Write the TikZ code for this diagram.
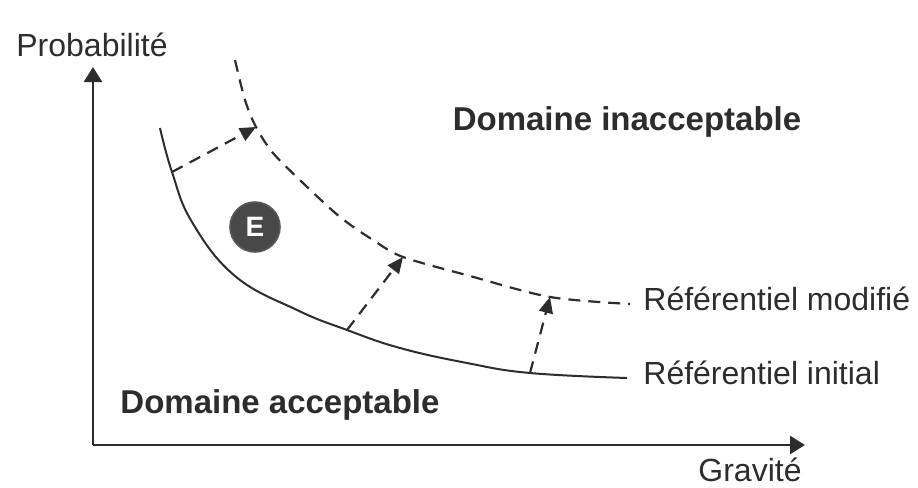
\documentclass[tikz,border=0pt]{standalone}
\usepackage{fontspec}
\setmainfont{Liberation Sans}
\usetikzlibrary{arrows.meta, positioning, calc}
\definecolor{ink}{RGB}{45, 45, 45}
\definecolor{disc}{RGB}{72, 72, 72}

\begin{document}
\begin{tikzpicture}[x=0.5pt, y=-0.5pt, font=\fontsize{16}{18}\selectfont,
  axe/.style={ink, line width=1.3pt, -{Triangle[length=7.5pt, width=9pt]}},
  refline/.style={ink, line width=1pt},
  move/.style={ink, line width=1.1pt, dash pattern=on 6pt off 4pt, -{Triangle[length=8pt, width=7pt]}},
  lbl/.style={text=ink, inner sep=0pt},
  zone/.style={lbl, font=\fontsize{16.5}{18}\selectfont\bfseries}]
  \useasboundingbox (0,0) rectangle (918,488);
  % Axes
  \coordinate (o) at (93,445);
  \node[lbl] (prob) at (92,45) {Probabilité};
  \node[lbl] (grav) at (750,470) {Gravité};
  \draw[axe] (o) -- (o |- 0,67);
  \draw[axe] (o) -- (805,445);
  % Domains
  \node[zone] (inacc) at (627,122) {Domaine inacceptable};
  \node[zone] (acc) at (280,405) {Domaine acceptable};
  \node[lbl, anchor=west] (modif) at (643,299) {Référentiel modifié};
  \node[lbl, anchor=west] (init) at (643,373) {Référentiel initial};
  % Initial curve
  \foreach \n/\p in {s1/{160,128}, s2/{172,172}, s3/{192,222}, s4/{235,276}, s5/{297,310},
                     s6/{347,330}, s7/{400,348}, s8/{467,363}, s9/{530,373}, s10/{627,378}} {
    \coordinate (\n) at (\p);
  }
  \draw[refline] plot[smooth, tension=0.7] coordinates {(s1) (s2) (s3) (s4) (s5) (s6) (s7) (s8) (s9) (s10)};
  % Modified curve
  \foreach \n/\p in {d1/{235,60}, d2/{245,100}, d3/{256,127}, d4/{273,153}, d5/{303,183}, d6/{340,217},
                     d7/{373,240}, d8/{403,257}, d9/{470,276}, d10/{550,297}, d11/{630,304}} {
    \coordinate (\n) at (\p);
  }
  \draw[ink, line width=1.1pt, dash pattern=on 6pt off 4pt] plot[smooth] coordinates {(d1) (d2) (d3) (d4) (d5) (d6) (d7) (d8) (d9) (d10) (d11)};
  % Shifts
  \draw[move] (s2) -- (d3);
  \draw[move] (s6) -- (d8);
  \draw[move] (s9) -- (d10);
  % Event
  \node[circle, fill=disc, draw=gray!70!black, line width=0.8pt, minimum size=25pt, inner sep=0pt,
        text=white, font=\fontsize{14}{16}\selectfont\bfseries] (evt) at (255,227) {E};
\end{tikzpicture}
\end{document}
